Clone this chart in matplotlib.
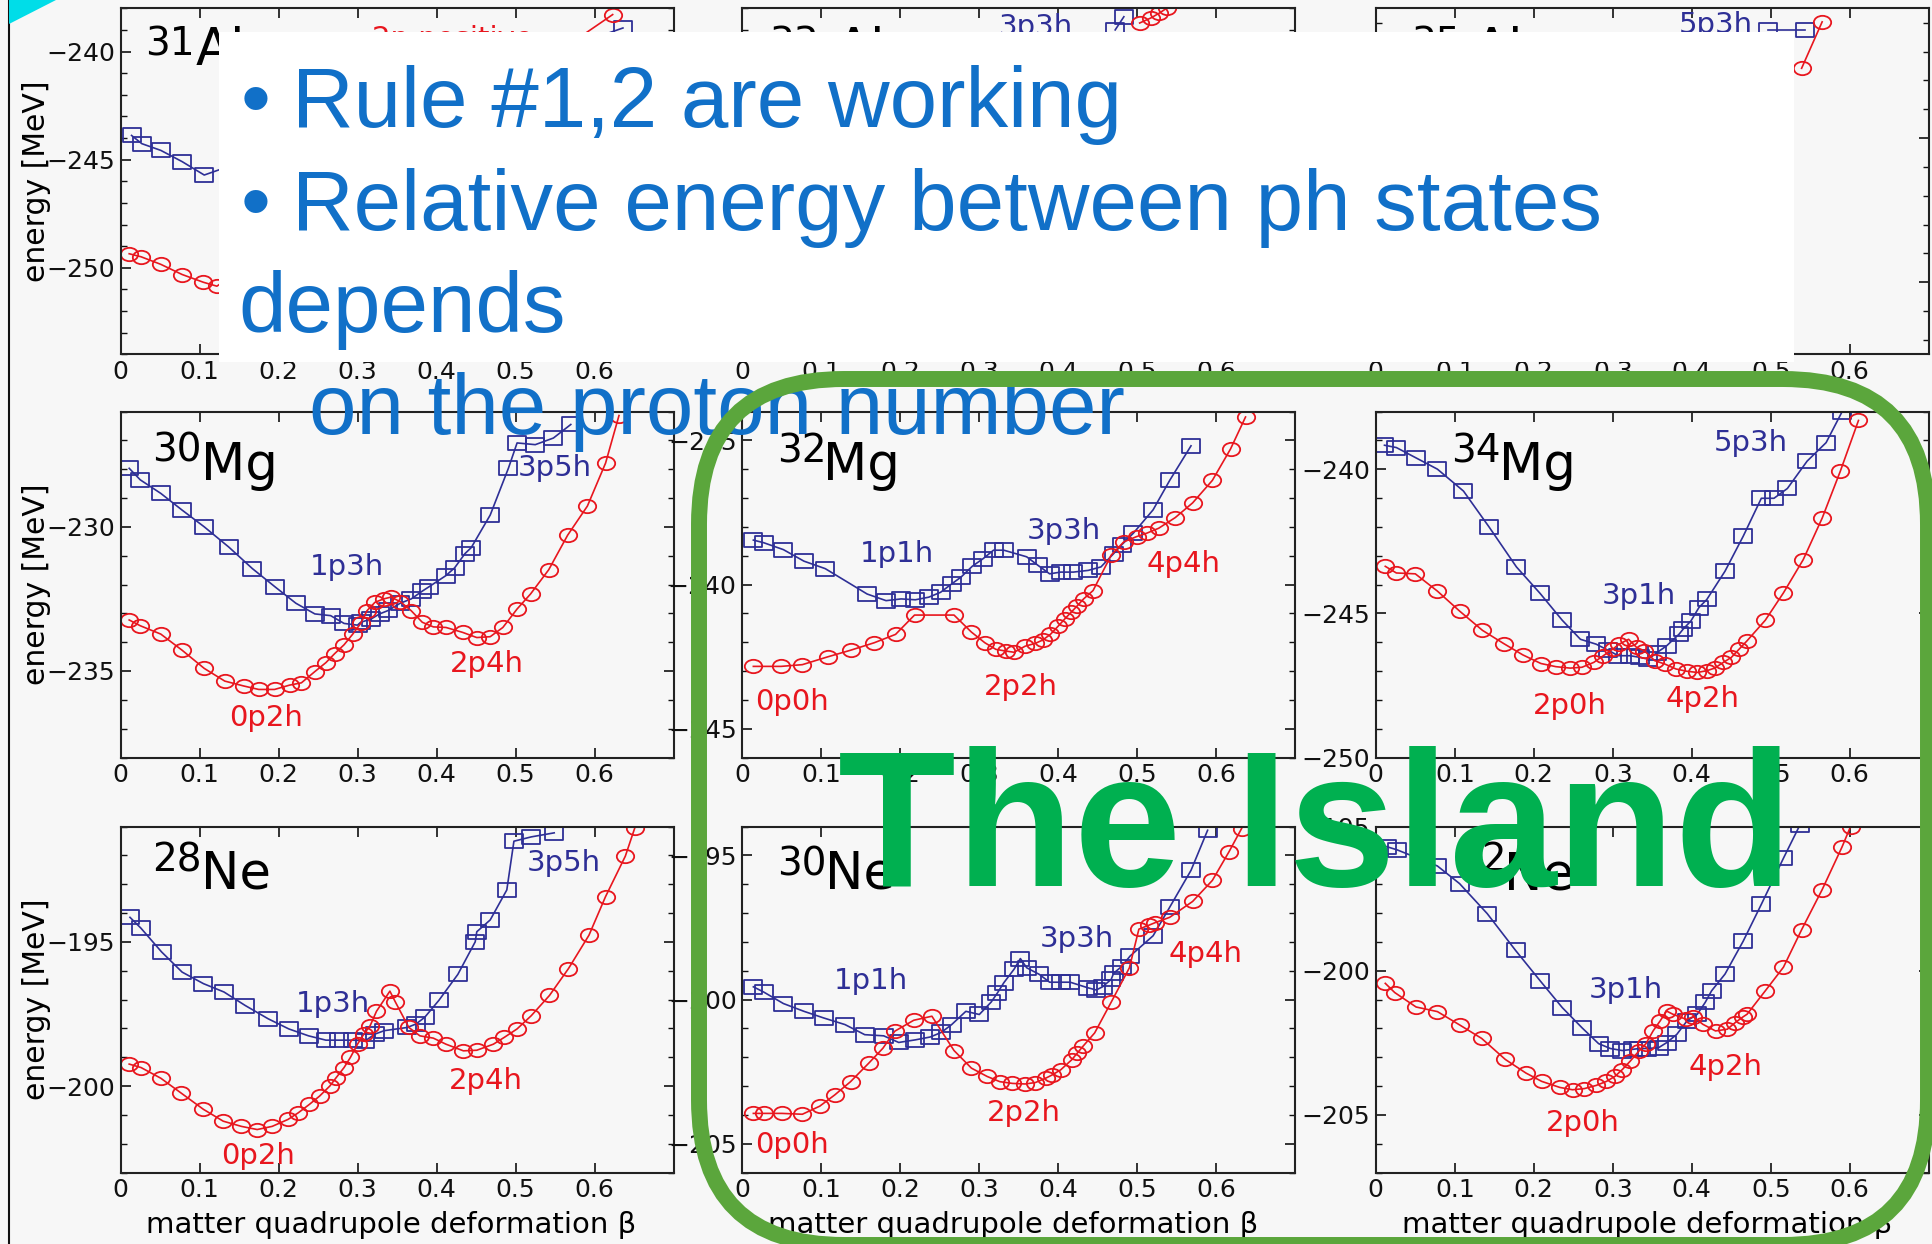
import matplotlib
matplotlib.use('Agg')
import matplotlib.pyplot as plt
import numpy as np
from matplotlib.path import Path
from matplotlib.patches import FancyBboxPatch, Rectangle, Polygon
from matplotlib.ticker import MultipleLocator, FixedLocator

W, H = 1932, 1244

# ---------------- data ----------------
beta_ticks = [0, 0.1, 0.2, 0.3, 0.4, 0.5, 0.6]
beta_tick_labels = ['0', '0.1', '0.2', '0.3', '0.4', '0.5', '0.6']

# 31Al (top row, mostly hidden)
al31_blue_beta = [0.014, 0.027, 0.051, 0.078, 0.106, 0.636]
al31_blue_E = [-243.88, -244.26, -244.57, -245.09, -245.71, -238.91]
al31_red_beta = [0.011, 0.026, 0.051, 0.078, 0.105, 0.122, 0.623]
al31_red_E = [-249.35, -249.49, -249.84, -250.31, -250.67, -250.85, -238.29]

# 33Al
al33_blue_beta = [0.472, 0.483]
al33_blue_E = [-237.0, -236.39]
al33_red_beta = [0.503, 0.517, 0.528, 0.537]
al33_red_E = [-236.68, -236.45, -236.22, -236.0]

# 35Al
al35_blue_beta = [0.496, 0.543]
al35_blue_E = [-241.25, -241.25]
al35_red_beta = [0.539, 0.565]
al35_red_E = [-242.58, -240.97]

# 30Mg
mg30_blue_beta = [0.011, 0.025, 0.051, 0.078, 0.106, 0.137, 0.167, 0.196, 0.222, 0.246, 0.266,
                  0.283, 0.300, 0.304, 0.317, 0.328, 0.339, 0.354, 0.368, 0.382, 0.391, 0.412,
                  0.423, 0.436, 0.444, 0.468, 0.491, 0.502, 0.525, 0.548, 0.570]
mg30_blue_E = [-227.97, -228.37, -228.84, -229.42, -230.00, -230.70, -231.45, -232.09, -232.65,
               -233.02, -233.08, -233.35, -233.41, -233.31, -233.20, -233.02, -232.90, -232.65,
               -232.50, -232.23, -232.07, -231.69, -231.42, -230.93, -230.72, -229.59, -227.97,
               -227.09, -227.15, -226.92, -226.45]
mg30_red_beta = [0.011, 0.025, 0.051, 0.078, 0.106, 0.132, 0.156, 0.175, 0.195, 0.214, 0.229,
                 0.246, 0.260, 0.271, 0.283, 0.294, 0.304, 0.312, 0.322, 0.333, 0.342, 0.354,
                 0.368, 0.382, 0.396, 0.412, 0.433, 0.451, 0.468, 0.484, 0.502, 0.519, 0.542,
                 0.566, 0.591, 0.614, 0.631]
mg30_red_E = [-233.23, -233.43, -233.72, -234.28, -234.91, -235.35, -235.52, -235.64, -235.64,
              -235.49, -235.41, -235.02, -234.71, -234.40, -234.09, -233.72, -233.35, -232.91,
              -232.62, -232.50, -232.44, -232.59, -232.91, -233.31, -233.47, -233.49, -233.66,
              -233.84, -233.81, -233.49, -232.85, -232.33, -231.49, -230.29, -229.28, -227.79,
              -226.14]

# 32Mg
mg32_blue_beta = [0.014, 0.027, 0.052, 0.078, 0.105, 0.158, 0.182, 0.201, 0.219, 0.236, 0.251,
                  0.265, 0.277, 0.291, 0.305, 0.318, 0.331, 0.360, 0.374, 0.389, 0.403, 0.419,
                  0.438, 0.454, 0.470, 0.480, 0.495, 0.520, 0.541, 0.568]
mg32_blue_E = [-238.46, -238.55, -238.79, -239.19, -239.45, -240.33, -240.56, -240.50, -240.53,
               -240.44, -240.27, -239.98, -239.74, -239.37, -239.10, -238.81, -238.81, -239.04,
               -239.33, -239.63, -239.57, -239.57, -239.51, -239.39, -238.93, -238.63, -238.22,
               -237.41, -236.39, -235.19]
mg32_red_beta = [0.014, 0.049, 0.076, 0.108, 0.137, 0.167, 0.194, 0.218, 0.268, 0.290, 0.307,
                 0.321, 0.334, 0.344, 0.358, 0.371, 0.380, 0.390, 0.400, 0.408, 0.416, 0.424,
                 0.432, 0.444, 0.467, 0.483, 0.499, 0.512, 0.527, 0.548, 0.570, 0.595, 0.618,
                 0.637]
mg32_red_E = [-242.84, -242.84, -242.78, -242.51, -242.28, -242.02, -241.73, -241.06, -241.06,
              -241.65, -242.02, -242.25, -242.31, -242.35, -242.14, -242.04, -241.93, -241.73,
              -241.44, -241.20, -240.97, -240.74, -240.50, -240.21, -238.98, -238.52, -238.34,
              -238.22, -238.05, -237.68, -237.17, -236.39, -235.30, -234.19]

# 34Mg
mg34_blue_beta = [0.011, 0.026, 0.051, 0.078, 0.111, 0.143, 0.178, 0.208, 0.236, 0.259, 0.279,
                  0.294, 0.307, 0.322, 0.335, 0.345, 0.356, 0.368, 0.384, 0.389, 0.399, 0.409,
                  0.419, 0.442, 0.465, 0.488, 0.504, 0.521, 0.546, 0.570, 0.590]
mg34_blue_E = [-239.17, -239.25, -239.61, -240.00, -240.76, -241.99, -243.39, -244.31, -245.24,
               -245.90, -246.07, -246.28, -246.47, -246.47, -246.53, -246.59, -246.36, -246.13,
               -245.72, -245.55, -245.26, -244.80, -244.52, -243.54, -242.33, -241.01, -241.01,
               -240.67, -239.72, -239.08, -238.02]
mg34_red_beta = [0.012, 0.026, 0.050, 0.078, 0.106, 0.135, 0.162, 0.186, 0.209, 0.228, 0.246,
                 0.261, 0.276, 0.288, 0.300, 0.308, 0.320, 0.330, 0.340, 0.353, 0.366, 0.380,
                 0.394, 0.407, 0.419, 0.429, 0.440, 0.450, 0.460, 0.470, 0.493, 0.516, 0.541,
                 0.565, 0.588, 0.611]
mg34_red_E = [-243.37, -243.60, -243.63, -244.23, -244.92, -245.59, -246.05, -246.44, -246.74,
              -246.85, -246.90, -246.87, -246.70, -246.47, -246.24, -246.07, -245.90, -246.18,
              -246.30, -246.64, -246.76, -246.93, -247.01, -247.05, -246.99, -246.90, -246.70,
              -246.53, -246.24, -245.95, -245.24, -244.29, -243.14, -241.70, -240.07, -238.31]

# 28Ne
ne28_blue_beta = [0.012, 0.026, 0.052, 0.078, 0.105, 0.131, 0.158, 0.187, 0.213, 0.238, 0.260,
                  0.277, 0.294, 0.310, 0.322, 0.334, 0.363, 0.374, 0.385, 0.403, 0.427, 0.449,
                  0.451, 0.468, 0.489, 0.498, 0.520, 0.549]
ne28_blue_E = [-194.15, -194.53, -195.35, -196.05, -196.45, -196.74, -197.21, -197.67, -198.02,
               -198.26, -198.41, -198.41, -198.41, -198.43, -198.20, -198.08, -197.97, -197.85,
               -197.62, -197.03, -196.13, -195.00, -194.65, -194.24, -193.20, -191.51, -191.36,
               -191.22]
ne28_red_beta = [0.011, 0.026, 0.051, 0.076, 0.105, 0.130, 0.153, 0.173, 0.192, 0.212, 0.225,
                 0.239, 0.252, 0.265, 0.273, 0.283, 0.291, 0.300, 0.308, 0.316, 0.324, 0.341,
                 0.348, 0.365, 0.379, 0.396, 0.412, 0.434, 0.451, 0.472, 0.486, 0.502, 0.520,
                 0.543, 0.567, 0.593, 0.614, 0.639, 0.651]
ne28_red_E = [-199.24, -199.36, -199.73, -200.23, -200.81, -201.22, -201.40, -201.51, -201.40,
              -201.16, -200.93, -200.64, -200.35, -200.00, -199.71, -199.36, -199.01, -198.55,
              -198.20, -197.91, -197.41, -196.71, -197.09, -197.97, -198.26, -198.34, -198.55,
              -198.78, -198.76, -198.55, -198.31, -198.02, -197.56, -196.86, -195.93, -194.77,
              -193.43, -192.03, -191.05]

# 30Ne
ne30_blue_beta = [0.014, 0.027, 0.052, 0.078, 0.103, 0.130, 0.155, 0.179, 0.198, 0.219, 0.238,
                  0.252, 0.265, 0.283, 0.300, 0.315, 0.323, 0.331, 0.344, 0.352, 0.360, 0.376,
                  0.389, 0.403, 0.415, 0.437, 0.448, 0.456, 0.467, 0.470, 0.480, 0.491, 0.520,
                  0.541, 0.568, 0.589]
ne30_blue_E = [-199.56, -199.74, -200.14, -200.41, -200.64, -200.87, -201.22, -201.26, -201.49,
               -201.40, -201.30, -201.14, -200.87, -200.41, -200.52, -200.09, -199.77, -199.42,
               -198.95, -198.58, -198.90, -199.13, -199.40, -199.40, -199.40, -199.59, -199.67,
               -199.56, -199.30, -199.09, -198.86, -198.49, -197.79, -196.80, -195.52, -194.13]
ne30_red_beta = [0.014, 0.027, 0.050, 0.076, 0.098, 0.117, 0.137, 0.160, 0.178, 0.193, 0.217,
                 0.240, 0.268, 0.290, 0.310, 0.326, 0.342, 0.358, 0.371, 0.384, 0.392, 0.403,
                 0.417, 0.424, 0.431, 0.446, 0.467, 0.490, 0.502, 0.515, 0.523, 0.541, 0.570,
                 0.595, 0.616, 0.632]
ne30_red_E = [-203.95, -203.95, -203.95, -203.98, -203.70, -203.31, -202.85, -202.21, -201.69,
              -201.10, -200.72, -200.58, -201.77, -202.38, -202.67, -202.85, -202.91, -202.93,
              -202.88, -202.73, -202.62, -202.44, -202.09, -201.86, -201.63, -201.16, -200.09,
              -198.90, -197.56, -197.42, -197.33, -197.15, -196.60, -195.87, -194.88, -194.07]

# 32Ne
ne32_blue_beta = [0.014, 0.027, 0.078, 0.106, 0.141, 0.177, 0.208, 0.236, 0.261, 0.282, 0.297,
                  0.312, 0.325, 0.333, 0.343, 0.358, 0.368, 0.381, 0.394, 0.407, 0.417, 0.425,
                  0.442, 0.465, 0.488, 0.516, 0.537]
ne32_blue_E = [-195.70, -195.81, -196.37, -196.98, -198.02, -199.30, -200.35, -201.28, -201.98,
               -202.53, -202.70, -202.77, -202.73, -202.70, -202.70, -202.67, -202.50, -202.21,
               -201.74, -201.51, -201.10, -200.70, -200.12, -198.98, -197.70, -196.10, -194.94]
ne32_red_beta = [0.012, 0.024, 0.051, 0.078, 0.106, 0.134, 0.164, 0.190, 0.210, 0.233, 0.249,
                 0.264, 0.279, 0.292, 0.303, 0.312, 0.322, 0.333, 0.342, 0.351, 0.360, 0.368,
                 0.376, 0.393, 0.402, 0.414, 0.430, 0.445, 0.455, 0.465, 0.470, 0.493, 0.516,
                 0.539, 0.565, 0.590, 0.601]
ne32_red_E = [-200.44, -200.76, -201.26, -201.42, -201.88, -202.35, -203.08, -203.55, -203.84,
              -204.05, -204.13, -204.09, -203.98, -203.84, -203.66, -203.43, -203.14, -202.79,
              -202.53, -202.09, -201.74, -201.40, -201.51, -201.69, -201.60, -201.86, -202.09,
              -202.03, -201.80, -201.60, -201.51, -200.70, -199.88, -198.58, -197.19, -195.72,
              -195.00]

nuclei_mass = ['31', '33', '35', '30', '32', '34', '28', '30', '32']
nuclei_elem = ['Al', 'Al', 'Al', 'Mg', 'Mg', 'Mg', 'Ne', 'Ne', 'Ne']
ylims = [(-254, -238), (-252, -236), (-252.5, -240.5),
         (-238, -226), (-246, -234), (-250, -238),
         (-203, -191), (-206, -194), (-207, -195)]

# state labels: (text, beta, E, colour key)
mg30_states = [('1p3h', 0.287, -231.40, 'b'), ('3p5h', 0.550, -227.95, 'b'),
               ('0p2h', 0.184, -236.63, 'r'), ('2p4h', 0.464, -234.76, 'r')]
mg32_states = [('1p1h', 0.196, -238.93, 'b'), ('3p3h', 0.407, -238.14, 'b'),
               ('4p4h', 0.558, -239.28, 'r'), ('2p2h', 0.352, -243.54, 'r'),
               ('0p0h', 0.063, -244.07, 'r')]
mg34_states = [('5p3h', 0.4745, -239.08, 'b'), ('3p1h', 0.333, -244.40, 'b'),
               ('2p0h', 0.245, -248.20, 'r'), ('4p2h', 0.414, -247.97, 'r')]
ne28_states = [('1p3h', 0.269, -197.15, 'b'), ('3p5h', 0.561, -192.27, 'b'),
               ('0p2h', 0.174, -202.44, 'r'), ('2p4h', 0.463, -199.83, 'r')]
ne30_states = [('1p1h', 0.163, -199.36, 'b'), ('3p3h', 0.423, -197.91, 'b'),
               ('4p4h', 0.587, -198.43, 'r'), ('2p2h', 0.356, -203.95, 'r'),
               ('0p0h', 0.063, -205.06, 'r')]
ne32_states = [('3p1h', 0.317, -200.66, 'b'), ('4p2h', 0.443, -203.34, 'r'),
               ('2p0h', 0.262, -205.29, 'r')]
al31_states = [('2p positive', 0.42, -239.42, 'r')]
al33_states = [('3p3h', 0.372, -236.87, 'b')]
al35_states = [('5p3h', 0.431, -241.08, 'b')]

slide_lines = ['Rule #1,2 are working', 'Relative energy between ph states', 'depends',
               'on the proton number']
island_text = 'The Island'

# ---------------- style ----------------
BLUE = '#2E2F96'
RED = '#E8161E'
CHART_BG = '#f7f7f7'
col_left = [120.5, 742.3, 1375.8]
row_top = [8.3, 411.5, 826.5]
AW, AH = 553.0, 346.0

sq = Path([(-1.3, -1), (1.3, -1), (1.3, 1), (-1.3, 1), (-1.3, -1)],
          [Path.MOVETO, Path.LINETO, Path.LINETO, Path.LINETO, Path.CLOSEPOLY])
uc = Path.unit_circle()
ell = Path(uc.vertices * np.array([1.3, 1.0]), uc.codes)

panels = [
    (al31_blue_beta, al31_blue_E, al31_red_beta, al31_red_E, al31_states),
    (al33_blue_beta, al33_blue_E, al33_red_beta, al33_red_E, al33_states),
    (al35_blue_beta, al35_blue_E, al35_red_beta, al35_red_E, al35_states),
    (mg30_blue_beta, mg30_blue_E, mg30_red_beta, mg30_red_E, mg30_states),
    (mg32_blue_beta, mg32_blue_E, mg32_red_beta, mg32_red_E, mg32_states),
    (mg34_blue_beta, mg34_blue_E, mg34_red_beta, mg34_red_E, mg34_states),
    (ne28_blue_beta, ne28_blue_E, ne28_red_beta, ne28_red_E, ne28_states),
    (ne30_blue_beta, ne30_blue_E, ne30_red_beta, ne30_red_E, ne30_states),
    (ne32_blue_beta, ne32_blue_E, ne32_red_beta, ne32_red_E, ne32_states),
]
# name label positions (axes fraction): sup x, sup baseline, name x, name baseline
name_pos = [(0.045, 0.865, 0.136, 0.836), (0.048, 0.865, 0.168, 0.836), (0.064, 0.865, 0.177, 0.836),
            (0.057, 0.855, 0.146, 0.803), (0.063, 0.852, 0.146, 0.803), (0.136, 0.852, 0.223, 0.803),
            (0.057, 0.869, 0.146, 0.822), (0.063, 0.859, 0.149, 0.821), (0.147, 0.869, 0.231, 0.817)]

fig = plt.figure(figsize=(W / 100, H / 100), dpi=100, facecolor=CHART_BG)

for i, (bb, be, rb, re_, states) in enumerate(panels):
    r, c = divmod(i, 3)
    ax = fig.add_axes([col_left[c] / W, 1 - (row_top[r] + AH) / H, AW / W, AH / H])
    ax.set_facecolor(CHART_BG)
    ax.plot(bb, be, '-', color=BLUE, lw=1.2, marker=sq, ms=13, mfc='none',
            mec=BLUE, mew=1.3, clip_on=True)
    ax.plot(rb, re_, '-', color=RED, lw=1.2, marker=ell, ms=12.5, mfc='none',
            mec=RED, mew=1.3, clip_on=True)
    ax.set_xlim(0, 0.7)
    ax.set_ylim(*ylims[i])
    ax.xaxis.set_major_locator(FixedLocator(beta_ticks))
    ax.set_xticklabels(beta_tick_labels)
    ax.yaxis.set_major_locator(MultipleLocator(5))
    ax.yaxis.set_minor_locator(MultipleLocator(1))
    ax.yaxis.set_major_formatter(plt.FuncFormatter(
        lambda v, p: '\u2212%d' % abs(v) if v < 0 else '%d' % v))
    ax.tick_params(which='both', direction='in', top=True, right=True, labelsize=18,
                   colors='#111111', pad=4)
    ax.tick_params(which='major', length=7, width=1.2)
    ax.tick_params(which='minor', length=4.5, width=1.0)
    for s in ax.spines.values():
        s.set_linewidth(1.5)
        s.set_color('#222222')
    sx, sy, nx, ny = name_pos[i]
    ax.text(sx, sy, nuclei_mass[i], transform=ax.transAxes, fontsize=28, va='baseline', ha='left')
    ax.text(nx, ny, nuclei_elem[i], transform=ax.transAxes, fontsize=37, va='baseline', ha='left')
    for (t, xb, ye, ck) in states:
        ax.text(xb, ye, t, color=BLUE if ck == 'b' else RED, fontsize=21,
                ha='center', va='center')
    if c == 0:
        ax.set_ylabel('energy [MeV]', fontsize=21.5)
        ax.yaxis.set_label_coords(-0.125, 0.5)
    if r == 2:
        ax.set_xlabel('matter quadrupole deformation \u03b2', fontsize=21)
        ax.xaxis.set_label_coords(0.49, -0.112)

# ---------------- slide overlay ----------------
ov = fig.add_axes([0, 0, 1, 1], zorder=10)
ov.set_xlim(0, W)
ov.set_ylim(H, 0)
ov.axis('off')
ov.patch.set_alpha(0)

ov.plot([9, 9], [0, H], color='#111111', lw=1.5, zorder=1)
ov.add_patch(Polygon([(9, 0), (56, 0), (9, 24)], closed=True, fc='#00DDE8', ec='none', zorder=1))
ov.add_patch(Rectangle((218.75, 32), 1793.6 - 218.75, 362 - 32, fc='white', ec='none', zorder=2))

TXT_BLUE = '#1170C8'
fs_slide = 61.5
for yb in (126.7, 230):
    ov.text(241, yb, '\u2022', fontsize=fs_slide, family='Liberation Sans', color=TXT_BLUE,
            va='baseline', ha='left', zorder=3)
ov.text(292, 126.7, slide_lines[0], fontsize=fs_slide, family='Liberation Sans', color=TXT_BLUE,
        va='baseline', ha='left', zorder=3)
ov.text(292, 230, slide_lines[1], fontsize=fs_slide, family='Liberation Sans', color=TXT_BLUE,
        va='baseline', ha='left', zorder=3)
ov.text(238, 331.7, slide_lines[2], fontsize=fs_slide, family='Liberation Sans', color=TXT_BLUE,
        va='baseline', ha='left', zorder=3)
ov.text(309, 434, slide_lines[3], fontsize=fs_slide, family='Liberation Sans', color=TXT_BLUE,
        va='baseline', ha='left', zorder=3)

ov.add_patch(FancyBboxPatch((699, 379), 1928 - 699, 1245 - 379,
                            boxstyle='round,pad=0,rounding_size=145',
                            fc='none', ec='#5BA63C', lw=11.5, zorder=4))

ov.text(838, 886, island_text, fontsize=139, fontweight='bold', family='Liberation Sans',
        color='#00B050', va='baseline', ha='left', zorder=5)

fig.savefig('out.png', dpi=100, facecolor=fig.get_facecolor())
